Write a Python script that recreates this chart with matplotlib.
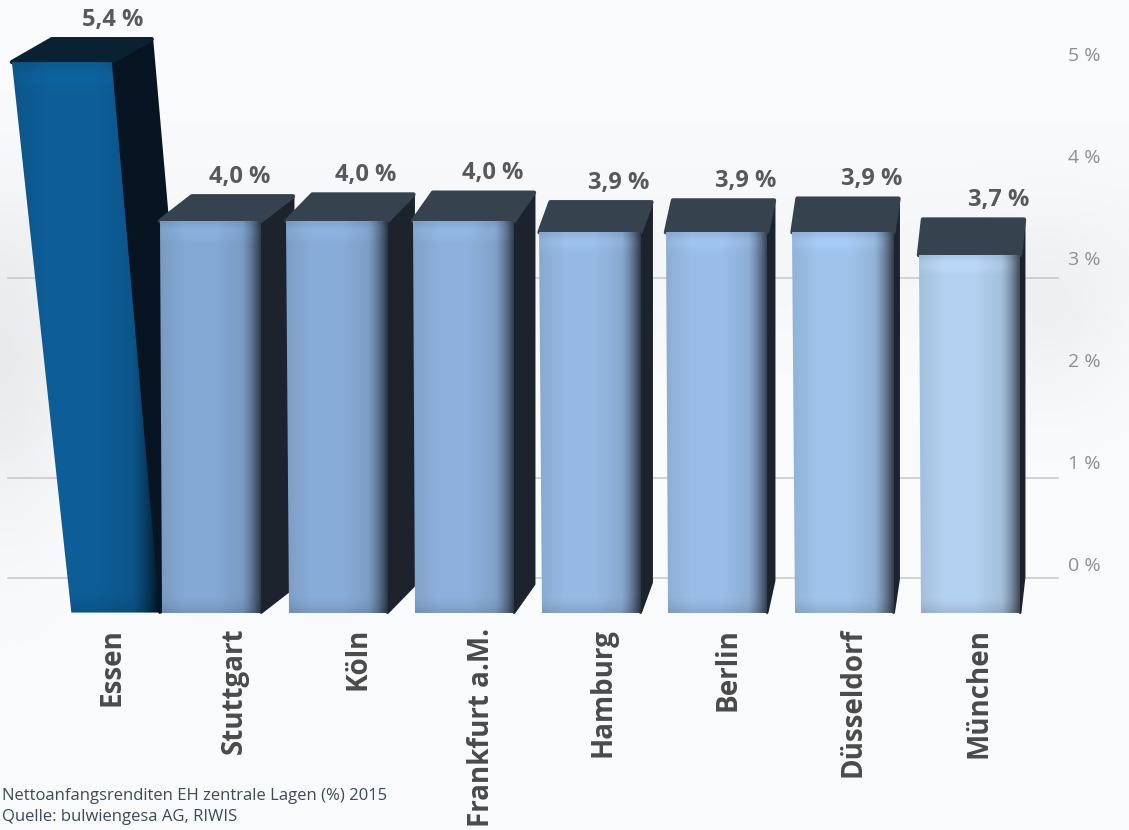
import numpy as np
import matplotlib.pyplot as plt
from matplotlib.patches import Polygon
from matplotlib.colors import to_rgb

plt.rcParams['font.family'] = ['Open Sans', 'DejaVu Sans']

# data
cities = ['Essen', 'Stuttgart', 'Köln', 'Frankfurt a.M.', 'Hamburg',
          'Berlin', 'Düsseldorf', 'München']
yields = [5.4, 4.0, 4.0, 4.0, 3.9, 3.9, 3.9, 3.7]
value_labels = ['5,4 %', '4,0 %', '4,0 %', '4,0 %', '3,9 %', '3,9 %', '3,9 %', '3,7 %']
scale_ticks = [0, 1, 2, 3, 4, 5]
scale_labels = ['0 %', '1 %', '2 %', '3 %', '4 %', '5 %']
grid_levels = [0, 1, 3]
footer = ['Nettoanfangsrenditen EH zentrale Lagen (%) 2015',
          'Quelle: bulwiengesa AG, RIWIS']

# look of the bars (Essen highlighted, the others get lighter to the right)
front_colors = ['#0d5c95', '#82a6d1', '#86a9d4', '#8aadd7', '#93b6df',
                '#97bae3', '#9dc0e7', '#b0cdec']
top_colors = ['#0a2131'] + ['#37424f'] * 7
side_colors = ['#061521'] + ['#1c232c'] * 7
front_bottom = [(-0.12, 0.58)] + [(-0.40, 0.38)] * 7
front_top = [(-0.59, 0.20)] + [(-0.42, 0.38)] * 7
side_px = [40, 32, 26, 20, 11, 7, 5, 4]      # visible depth of the side, pixels

W, H = 1129, 830
X0, XSTEP = 86.5, 126.5      # pixel of first bar, pixels per bar
Y0, YSTEP = 675.0, 113.5     # pixel of value 0, pixels per percent
FLOOR = 0.55

fig = plt.figure(figsize=(W / 100, H / 100), dpi=100)

# background axes with the percentage scale on the right
bg = fig.add_axes([0, 0, 1, 1])
bg.set_xlim(0, 1)
bg.set_ylim(-2.52, 5.78)
bg.axis('off')

# soft grey shading like the original background
yy, xx = np.mgrid[0:1:200j, 0:1:200j]
shade = 0.978 - 0.06 * np.exp(-((xx - 0.0) ** 2 / 0.004 + (yy - 0.45) ** 2 / 0.03)) \
    - 0.035 * np.exp(-((xx - 0.93) ** 2 / 0.004 + (yy - 0.38) ** 2 / 0.01)) \
    - 0.015 * np.exp(-((yy - 0.3) ** 2 / 0.01))
bg_img = np.dstack([shade, shade + 0.004, shade + 0.01])
bg.imshow(np.clip(bg_img, 0, 1), extent=[0, 1, -2.52, 5.78], aspect='auto', zorder=0)

for lvl in grid_levels:
    bg.plot([0.007, 0.937], [lvl, lvl], color='#c4c6c9', lw=1.1, zorder=1)
for t, lab in zip(scale_ticks, scale_labels):
    bg.text(0.946, t * 1.02 + 0.12, lab, color='#8f8f8f', fontsize=14,
            ha='left', va='center')

# main axes with the bars
ax = fig.add_axes([0, 0, 1, 1], facecolor='none')
xlim = (-X0 / XSTEP, (W - X0) / XSTEP)
ylim = ((Y0 - H) / YSTEP, Y0 / YSTEP)


def profile(n, dark_edge):
    u = np.linspace(0, 1, n)
    f = 0.93 + 0.09 * np.clip(u / 0.25, 0, 1)
    f -= 0.10 * np.clip((u - 0.55) / 0.3, 0, 1)
    f -= dark_edge * np.clip((u - 0.80) / 0.20, 0, 1) ** 1.5
    return f


for i, (v, col) in enumerate(zip(yields, front_colors)):
    dx = side_px[i] / XSTEP
    dy = (23 + 1.8 * i) / YSTEP
    bl, br = i + front_bottom[i][0], i + front_bottom[i][1]
    tl, tr = i + front_top[i][0], i + front_top[i][1]

    # side face
    side = Polygon([(br, FLOOR), (tr, v), (tr + dx, v + dy), (br + dx, FLOOR + dy)],
                   closed=True, fc=side_colors[i], ec=side_colors[i], lw=2,
                   joinstyle='round', zorder=2)
    ax.add_patch(side)

    # top face
    top = Polygon([(tl, v), (tr, v), (tr + dx, v + dy), (tl + dx, v + dy)],
                  closed=True, fc=top_colors[i], ec=top_colors[i], lw=3,
                  joinstyle='round', zorder=3)
    ax.add_patch(top)

    # front face with a shaded gradient
    front = Polygon([(bl, FLOOR), (br, FLOOR), (tr, v), (tl, v)], closed=True,
                    fc='none', ec='none', zorder=4)
    ax.add_patch(front)
    base = np.array(to_rgb(col))
    prof = profile(120, 0.6 if i else 0.75)
    vert = np.ones(80)
    vert[-4:] = [1.02, 1.04, 1.03, 0.97]
    vert[:3] = [0.9, 0.95, 0.98]
    img = np.clip(vert[:, None, None] * prof[None, :, None] * base[None, None, :], 0, 1)
    x0, x1 = min(bl, tl), max(br, tr)
    im = ax.imshow(img, extent=[x0, x1, FLOOR, v], origin='lower',
                   aspect='auto', zorder=4, interpolation='bilinear')
    im.set_clip_path(front)

    # value label above the bar
    ax.text(i + 0.21, v + dy + 0.17, value_labels[i], fontsize=17,
            fontweight='bold', color='#595959', ha='center', va='center', zorder=5)

    # city name below the bar
    ax.text(i + dx / 2 + 0.04, (Y0 - 628) / YSTEP, cities[i], rotation=90,
            fontsize=20, fontweight='bold', color='#4a4a4a', ha='center',
            va='top', zorder=5)

ax.set_xlim(*xlim)
ax.set_ylim(*ylim)
ax.axis('off')

# caption
fig.text(2 / W, 1 - 796 / H, footer[0], fontsize=12, color='#3b4b5b',
         ha='left', va='center')
fig.text(2 / W, 1 - 817 / H, footer[1], fontsize=12, color='#3b4b5b',
         ha='left', va='center')

fig.savefig('out.png', dpi=100)
